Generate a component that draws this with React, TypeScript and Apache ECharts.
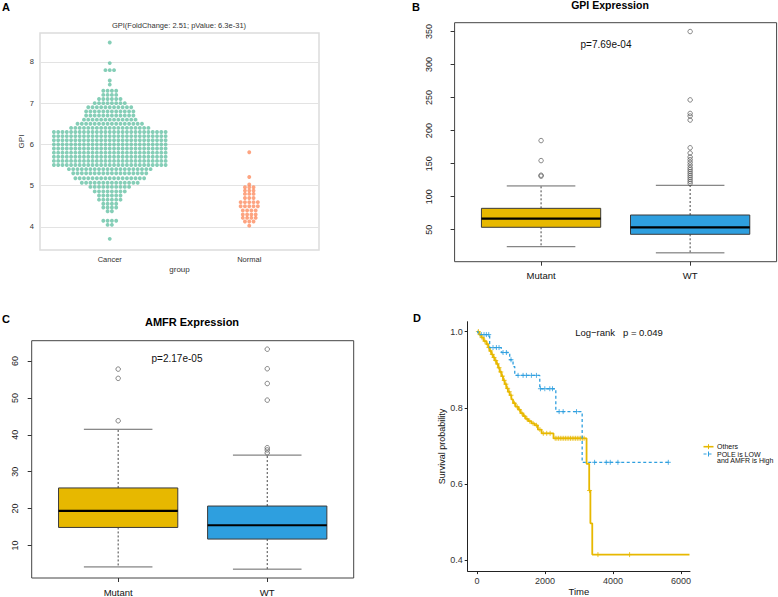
import React, { useEffect, useRef } from 'react';
import * as echarts from 'echarts';

const FONT = '"Liberation Sans", Arial, Helvetica, sans-serif';
const YELLOW = '#E7B800';
const BLUE = '#2E9FDF';
const TEAL = '#66c2a5';
const ORANGE = '#fc8d62';

// ---------- Panel A: swarm (values per row, number of dots per row) ----------
const swarmGroups = ['Cancer', 'Normal'];
const swarmTicks = [4, 5, 6, 7, 8];
const cancerRows = [3.71, 4.05, 4.15, 4.38, 4.47, 4.56, 4.66, 4.76, 4.86, 4.97, 5.07, 5.18, 5.3, 5.4, 5.5, 5.6, 5.7, 5.8, 5.9, 6.0, 6.1, 6.2, 6.3, 6.4, 6.5, 6.6, 6.7, 6.8, 6.9, 7.0, 7.1, 7.2, 7.3, 7.45, 7.55, 7.8, 7.97, 8.47];
const cancerCounts = [1, 2, 4, 2, 4, 4, 6, 6, 8, 10, 14, 17, 18, 20, 27, 27, 27, 27, 27, 27, 27, 27, 27, 19, 16, 13, 12, 12, 11, 8, 6, 4, 4, 1, 1, 3, 1, 1];
const normalRows = [4.03, 4.13, 4.22, 4.3, 4.4, 4.5, 4.6, 4.7, 4.8, 4.88, 4.96, 5.03, 5.21, 5.81];
const normalCounts = [1, 3, 4, 4, 4, 5, 5, 3, 3, 3, 3, 1, 1, 1];

// ---------- Panel B: GPI expression boxplot ----------
const boxGroups = ['Mutant', 'WT'];
// [lower whisker, Q1, median, Q3, upper whisker]
const gpiMutantStats = [24.2, 53.6, 66.7, 82.3, 116.2];
const gpiWTStats = [14.9, 43.0, 53.6, 72.2, 117.2];
const gpiMutantOutliers = [184.9, 154.6, 132.5, 131.0];
const gpiWTOutliers = [350, 246.5, 226, 222, 216, 174, 166, 160, 156, 152, 148, 144, 141, 138, 135, 132, 129, 126, 123, 120];
const gpiTicks = [50, 100, 150, 200, 250, 300, 350];

// ---------- Panel C: AMFR expression boxplot ----------
const amfrMutantStats = [4.2, 14.9, 19.4, 25.6, 41.5];
const amfrWTStats = [3.6, 11.75, 15.5, 20.7, 34.5];
const amfrMutantOutliers = [57.8, 55.3, 43.8];
const amfrWTOutliers = [63.2, 57.9, 53.9, 49.4, 36.5, 35.9, 35.1];
const amfrTicks = [10, 20, 30, 40, 50, 60];

// ---------- Panel D: Kaplan-Meier ----------
const kmNames = ['Others', 'POLE is LOW\nand AMFR is High'];
const othersTime = [0, 60, 128, 200, 275, 330, 373, 420, 471, 520, 570, 620, 668, 720, 766, 815, 864, 910, 962, 1010, 1060, 1130, 1208, 1280, 1355, 1430, 1502, 1600, 1699, 1790, 1900, 2250, 3222, 3300, 3335, 3390, 6250];
const othersSurv = [1.0, 0.992, 0.984, 0.975, 0.967, 0.958, 0.949, 0.94, 0.932, 0.924, 0.915, 0.905, 0.894, 0.883, 0.872, 0.862, 0.851, 0.842, 0.833, 0.822, 0.812, 0.803, 0.795, 0.786, 0.778, 0.771, 0.765, 0.759, 0.754, 0.743, 0.733, 0.72, 0.653, 0.583, 0.497, 0.415, 0.415];
const othersCensor = [40, 90, 150, 230, 300, 350, 400, 450, 500, 550, 600, 650, 700, 750, 800, 850, 900, 950, 1000, 1100, 1180, 1250, 1320, 1400, 1470, 1550, 1650, 1750, 1850, 1950, 2050, 2150, 2300, 2350, 2400, 2450, 2500, 2550, 2600, 2650, 2700, 2750, 2800, 2850, 2900, 2950, 3000, 3050, 3100, 3150, 3310, 3557, 4488];
const highTime = [0, 30, 372, 717, 962, 1060, 1110, 1846, 2318, 3093, 5627];
const highSurv = [1.0, 0.992, 0.958, 0.945, 0.926, 0.908, 0.885, 0.85, 0.79, 0.657, 0.657];
const highCensor = [128, 206, 275, 344, 471, 570, 648, 766, 864, 1000, 1208, 1355, 1453, 1600, 1748, 1866, 1994, 2141, 2220, 2416, 2534, 2927, 3459, 3802, 3920, 4145, 5627];
const kmXTicks = [0, 2000, 4000, 6000];
const kmYTicks = [0.4, 0.6, 0.8, 1.0];

const DOT_STEP = 0.0308;

function swarm(rows: number[], counts: number[], center: number) {
  const pts: number[][] = [];
  rows.forEach((y, i) => {
    const n = counts[i];
    for (let k = 0; k < n; k++) pts.push([center + (k - (n - 1) / 2) * DOT_STEP, y]);
  });
  return pts;
}

function survAt(times: number[], surv: number[], t: number) {
  let s = surv[0];
  for (let i = 0; i < times.length; i++) if (times[i] <= t) s = surv[i];
  return s;
}

const boxColors = [YELLOW, BLUE];

function boxSeries(idx: number, stats: number[][]) {
  return {
    type: 'custom',
    xAxisIndex: idx,
    yAxisIndex: idx,
    data: stats.map((s, i) => [i + 1, ...s]),
    renderItem: (params: any, api: any) => {
      const x = api.value(0);
      const lo = api.value(1), q1 = api.value(2), med = api.value(3), q3 = api.value(4), hi = api.value(5);
      const c = (xx: number, yy: number) => api.coord([xx, yy]);
      const cx = c(x, med)[0];
      const yLo = c(x, lo)[1], yQ1 = c(x, q1)[1], yMed = c(x, med)[1], yQ3 = c(x, q3)[1], yHi = c(x, hi)[1];
      const xl = c(x - 0.4, med)[0], xr = c(x + 0.4, med)[0];
      const sl = c(x - 0.23, med)[0], sr = c(x + 0.23, med)[0];
      const color = boxColors[params.dataIndex];
      return {
        type: 'group',
        children: [
          { type: 'line', shape: { x1: cx, y1: yQ3, x2: cx, y2: yHi }, style: { stroke: '#444', lineWidth: 1, lineDash: [2, 2] } },
          { type: 'line', shape: { x1: cx, y1: yQ1, x2: cx, y2: yLo }, style: { stroke: '#444', lineWidth: 1, lineDash: [2, 2] } },
          { type: 'line', shape: { x1: sl, y1: yHi, x2: sr, y2: yHi }, style: { stroke: '#666', lineWidth: 1 } },
          { type: 'line', shape: { x1: sl, y1: yLo, x2: sr, y2: yLo }, style: { stroke: '#666', lineWidth: 1 } },
          { type: 'rect', shape: { x: xl, y: yQ3, width: xr - xl, height: yQ1 - yQ3 }, style: { fill: color, stroke: '#3a3a3a', lineWidth: 1 } },
          { type: 'line', shape: { x1: xl, y1: yMed, x2: xr, y2: yMed }, style: { stroke: '#000', lineWidth: 2.2 } },
        ],
      };
    },
  };
}

function outlierSeries(idx: number, x: number, vals: number[]) {
  return {
    type: 'scatter',
    xAxisIndex: idx,
    yAxisIndex: idx,
    data: vals.map((v) => [x, v]),
    symbol: 'circle',
    symbolSize: 4.5,
    itemStyle: { color: 'transparent', borderColor: '#444', borderWidth: 0.8 },
  };
}

const PLUS = 'path://M0,5L10,5M5,0L5,10';

function rBoxAxes(idx: number, ticks: number[], min: number, max: number, labelMargin: number) {
  const x = {
    gridIndex: idx,
    type: 'value',
    min: 0.42,
    max: 2.58,
    axisLine: { show: false, onZero: false },
    axisTick: { show: true, customValues: [1, 2], length: 4, lineStyle: { color: '#333' } },
    axisLabel: { customValues: [1, 2], formatter: (v: number) => boxGroups[Math.round(v) - 1], margin: 9, fontSize: 9.5, color: '#111', fontFamily: FONT },
    splitLine: { show: false },
  };
  const y = {
    gridIndex: idx,
    type: 'value',
    min,
    max,
    axisLine: { show: false, onZero: false },
    axisTick: { show: true, customValues: ticks, length: 4, lineStyle: { color: '#333' } },
    axisLabel: { customValues: ticks, rotate: 90, margin: labelMargin, fontSize: 9, color: '#222', fontFamily: FONT },
    splitLine: { show: false },
  };
  return { x, y };
}

export default function App() {
  const ref = useRef<HTMLDivElement>(null);
  useEffect(() => {
    document.body.style.margin = '0';
    if (!ref.current) return;
    const chart = echarts.init(ref.current, null, { renderer: 'svg' });
    const b = rBoxAxes(1, gpiTicks, 1.5, 363.4, 21);
    const c = rBoxAxes(2, amfrTicks, 1.2, 65.5, 12);
    const txt = (text: string, x: number, y: number, font: string, fill = '#111', align = 'center') => ({
      type: 'text',
      x,
      y,
      style: { text, font, fill, align, verticalAlign: 'middle' },
    });
    const option: any = {
      animation: false,
      backgroundColor: '#ffffff',
      textStyle: { fontFamily: FONT },
      grid: [
        { left: 40, top: 33, width: 279, height: 217, show: true, borderColor: '#dcdcdc', borderWidth: 1.5, backgroundColor: 'transparent' },
        { left: 454.6, top: 22.7, width: 322, height: 239, show: true, borderColor: '#444', borderWidth: 1, backgroundColor: 'transparent' },
        { left: 31.7, top: 340.7, width: 322, height: 238.6, show: true, borderColor: '#444', borderWidth: 1, backgroundColor: 'transparent' },
        { left: 467.7, top: 321.7, width: 222.3, height: 254.3 },
      ],
      xAxis: [
        {
          gridIndex: 0,
          type: 'value',
          min: -0.5,
          max: 1.5,
          axisLine: { show: false, onZero: false },
          axisTick: { show: false },
          axisLabel: { customValues: [0, 1], formatter: (v: number) => swarmGroups[Math.round(v)], margin: 5, fontSize: 7.5, color: '#333', fontFamily: FONT },
          splitLine: { show: false },
          name: 'group',
          nameLocation: 'middle',
          nameGap: 15,
          nameTextStyle: { fontSize: 8, color: '#333', fontFamily: FONT },
        },
        b.x,
        c.x,
        {
          gridIndex: 3,
          type: 'value',
          min: -274,
          max: 6265,
          axisLine: { show: true, onZero: false, lineStyle: { color: '#222', width: 1 } },
          axisTick: { show: true, customValues: kmXTicks, length: 3, lineStyle: { color: '#222' } },
          axisLabel: { customValues: kmXTicks, formatter: (v: number) => String(Math.round(v)), margin: 5, fontSize: 9, color: '#333', fontFamily: FONT },
          splitLine: { show: false },
          name: 'Time',
          nameLocation: 'middle',
          nameGap: 11,
          nameTextStyle: { fontSize: 9.5, color: '#111', fontFamily: FONT },
        },
      ],
      yAxis: [
        {
          gridIndex: 0,
          type: 'value',
          min: 3.44,
          max: 8.7,
          axisLine: { show: false, onZero: false },
          axisTick: { show: false, customValues: swarmTicks },
          axisLabel: { customValues: swarmTicks, margin: 6, fontSize: 7.5, color: '#333', fontFamily: FONT },
          splitLine: { show: true, lineStyle: { color: '#e3e3e3', width: 1 } },
          name: 'GPI',
          nameLocation: 'middle',
          nameGap: 14,
          nameTextStyle: { fontSize: 8, color: '#333', fontFamily: FONT },
        },
        b.y,
        c.y,
        {
          gridIndex: 3,
          type: 'value',
          min: 0.3717,
          max: 1.0258,
          axisLine: { show: true, onZero: false, lineStyle: { color: '#222', width: 1 } },
          axisTick: { show: true, customValues: kmYTicks, length: 3, lineStyle: { color: '#222' } },
          axisLabel: { customValues: kmYTicks, formatter: (v: number) => v.toFixed(1), margin: 5, fontSize: 9, color: '#333', fontFamily: FONT },
          splitLine: { show: false },
          name: 'Survival probability',
          nameLocation: 'middle',
          nameGap: 16,
          nameTextStyle: { fontSize: 9, color: '#111', fontFamily: FONT },
        },
      ],
      series: [
        { type: 'scatter', name: 'Cancer', xAxisIndex: 0, yAxisIndex: 0, data: swarm(cancerRows, cancerCounts, 0), symbolSize: 3.9, itemStyle: { color: TEAL } },
        { type: 'scatter', name: 'Normal', xAxisIndex: 0, yAxisIndex: 0, data: swarm(normalRows, normalCounts, 1), symbolSize: 3.9, itemStyle: { color: ORANGE } },
        boxSeries(1, [gpiMutantStats, gpiWTStats]),
        outlierSeries(1, 1, gpiMutantOutliers),
        outlierSeries(1, 2, gpiWTOutliers),
        boxSeries(2, [amfrMutantStats, amfrWTStats]),
        outlierSeries(2, 1, amfrMutantOutliers),
        outlierSeries(2, 2, amfrWTOutliers),
        {
          type: 'line', name: kmNames[0], xAxisIndex: 3, yAxisIndex: 3, step: 'end', symbol: 'none',
          data: othersTime.map((t, i) => [t, othersSurv[i]]),
          lineStyle: { color: YELLOW, width: 1.8 },
        },
        {
          type: 'line', name: kmNames[1], xAxisIndex: 3, yAxisIndex: 3, step: 'end', symbol: 'none',
          data: highTime.map((t, i) => [t, highSurv[i]]),
          lineStyle: { color: BLUE, width: 1.3, type: [3, 2.5] },
        },
        {
          type: 'scatter', xAxisIndex: 3, yAxisIndex: 3, symbol: PLUS, symbolSize: 5,
          data: othersCensor.map((t) => [t, survAt(othersTime, othersSurv, t)]),
          itemStyle: { color: 'transparent', borderColor: YELLOW, borderWidth: 1 },
        },
        {
          type: 'scatter', xAxisIndex: 3, yAxisIndex: 3, symbol: PLUS, symbolSize: 5,
          data: highCensor.map((t) => [t, survAt(highTime, highSurv, t)]),
          itemStyle: { color: 'transparent', borderColor: BLUE, borderWidth: 1 },
        },
      ],
      graphic: [
        txt('A', 6, 7, `bold 11px ${FONT}`, '#000'),
        txt('B', 416, 7, `bold 11px ${FONT}`, '#000'),
        txt('C', 6, 318.5, `bold 11px ${FONT}`, '#000'),
        txt('D', 417, 317.5, `bold 11px ${FONT}`, '#000'),
        txt('GPI(FoldChange: 2.51; pValue: 6.3e-31)', 179, 25, `7.5px ${FONT}`, '#333'),
        txt('GPI Expression', 610, 4.8, `bold 10.5px ${FONT}`, '#000'),
        txt('p=7.69e-04', 606, 44, `10px ${FONT}`, '#111'),
        txt('AMFR Expression', 192, 321.7, `bold 11px ${FONT}`, '#000'),
        txt('p=2.17e-05', 177, 358.3, `10px ${FONT}`, '#111'),
        txt('Log\u2212rank   p = 0.049', 619, 332.3, `9.5px ${FONT}`, '#111'),
        { type: 'line', shape: { x1: 703.5, y1: 446.7, x2: 713.5, y2: 446.7 }, style: { stroke: YELLOW, lineWidth: 1.6 } },
        { type: 'line', shape: { x1: 708.5, y1: 444.2, x2: 708.5, y2: 449.2 }, style: { stroke: YELLOW, lineWidth: 1 } },
        { type: 'line', shape: { x1: 703.5, y1: 454, x2: 713.5, y2: 454 }, style: { stroke: BLUE, lineWidth: 1.2, lineDash: [3, 2] } },
        { type: 'line', shape: { x1: 708.5, y1: 451.5, x2: 708.5, y2: 456.5 }, style: { stroke: BLUE, lineWidth: 1 } },
        txt(kmNames[0], 717, 446.7, `7px ${FONT}`, '#111', 'left'),
        txt('POLE is LOW', 717, 454, `7px ${FONT}`, '#111', 'left'),
        txt('and AMFR is High', 717, 460.7, `7px ${FONT}`, '#111', 'left'),
      ],
    };
    chart.setOption(option);
    return () => chart.dispose();
  }, []);
  return <div ref={ref} style={{ position: 'absolute', left: 0, top: 0, width: 778, height: 597 }} />;
}
